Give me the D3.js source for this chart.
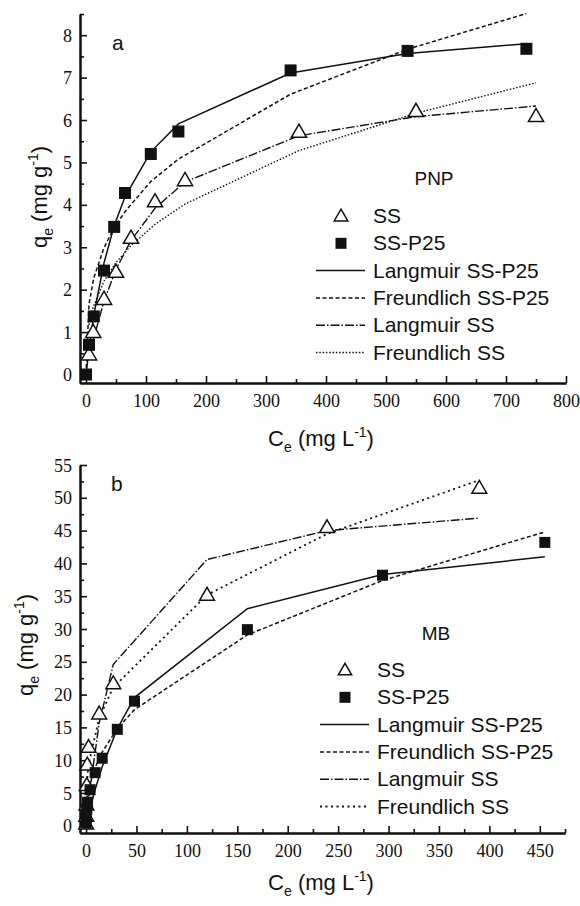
<!DOCTYPE html>
<html><head><meta charset="utf-8">
<script src="https://cdn.jsdelivr.net/npm/d3@7"></script>
<style>
html,body{margin:0;padding:0;background:#fff;}
svg{display:block;}
</style></head>
<body>
<svg id="chart" width="580" height="906"></svg>
<script>
// ---------- Panel a (PNP) ----------
const a_ssX   = [5, 12, 30, 50, 75, 115, 165, 355, 550, 750];
const a_ssY   = [0.47, 1.0, 1.78, 2.42, 3.22, 4.08, 4.58, 5.72, 6.21, 6.09];
const a_p25X  = [0, 5, 13, 30, 47, 65, 108, 154, 341, 536, 734];
const a_p25Y  = [0.0, 0.7, 1.37, 2.45, 3.48, 4.28, 5.2, 5.73, 7.17, 7.63, 7.68];
const a_langP25Y = [0, 0.59, 1.40, 2.63, 3.51, 4.19, 5.25, 5.91, 7.11, 7.57, 7.80];
const a_freuP25Y = [0, 1.66, 2.28, 2.99, 3.46, 3.84, 4.55, 5.08, 6.61, 7.67, 8.51];
const a_langSSY  = [0.36, 0.81, 1.73, 2.48, 3.16, 3.92, 4.54, 5.63, 6.08, 6.33];
const a_freuSSY  = [1.17, 1.59, 2.20, 2.64, 3.04, 3.54, 4.02, 5.28, 6.16, 6.88];
const a_xTicks = [0, 100, 200, 300, 400, 500, 600, 700, 800];
const a_yTicks = [0, 1, 2, 3, 4, 5, 6, 7, 8];

// ---------- Panel b (MB) ----------
const b_ssX   = [0.1, 0.2, 0.4, 0.7, 1.2, 2.5, 13, 27, 120, 239, 390];
const b_ssY   = [0.3, 1.5, 3.2, 6.2, 9.3, 12.0, 17.1, 21.7, 35.2, 45.5, 51.5];
const b_p25X  = [0.1, 0.3, 0.7, 1.5, 4, 9, 16, 31, 48, 160, 294, 455];
const b_p25Y  = [0.4, 1.2, 2.5, 3.6, 5.5, 8.1, 10.3, 14.7, 19.0, 29.9, 38.2, 43.2];
const b_langP25Y = [0.07, 0.21, 0.48, 1.03, 2.63, 5.53, 9.0, 14.8, 19.55, 33.1, 38.3, 41.0];
const b_freuP25Y = [1.38, 2.18, 3.09, 4.24, 6.35, 8.87, 11.25, 14.8, 17.7, 29.1, 37.4, 44.8];
const b_langSSY  = [0.17, 0.35, 0.69, 1.19, 2.01, 4.0, 15.64, 24.6, 40.6, 45.0, 46.9];
const b_freuSSY  = [3.1, 3.94, 4.99, 6.05, 7.27, 9.35, 16.4, 21.1, 35.2, 44.5, 52.7];
const b_xTicks = [0, 50, 100, 150, 200, 250, 300, 350, 400, 450];
const b_yTicks = [0, 5, 10, 15, 20, 25, 30, 35, 40, 45, 50, 55];

const legendLabels = ["SS", "SS-P25", "Langmuir SS-P25", "Freundlich SS-P25", "Langmuir SS", "Freundlich SS"];

const svg = d3.select("#chart");
const SERIF = "Liberation Serif, DejaVu Serif, serif";
const SANS = "Liberation Sans, Arial, sans-serif";
const INK = "#111";

function panel(cfg) {
  const g = svg.append("g");
  const x = d3.scaleLinear().domain(cfg.xDomain).range(cfg.xRange);
  const y = d3.scaleLinear().domain(cfg.yDomain).range(cfg.yRange);

  const xMinor = d3.axisBottom(x).tickValues(cfg.xMinor).tickSize(-4).tickSizeOuter(0).tickFormat("");
  const yMinor = d3.axisLeft(y).tickValues(cfg.yMinor).tickSize(-4).tickSizeOuter(0).tickFormat("");
  const xAx = d3.axisBottom(x).tickValues(cfg.xTicks).tickSize(-7).tickSizeOuter(0).tickPadding(10);
  const yAx = d3.axisLeft(y).tickValues(cfg.yTicks).tickSize(-7).tickSizeOuter(0).tickPadding(8);

  const gxm = g.append("g").attr("transform", `translate(0,${cfg.yRange[0]})`).call(xMinor);
  const gym = g.append("g").attr("transform", `translate(${cfg.xRange[0]},0)`).call(yMinor);
  const gx = g.append("g").attr("transform", `translate(0,${cfg.yRange[0]})`).call(xAx);
  const gy = g.append("g").attr("transform", `translate(${cfg.xRange[0]},0)`).call(yAx);
  [gxm, gym, gx, gy].forEach(a => {
    a.attr("font-family", SERIF).attr("font-size", 18);
    a.select(".domain").attr("stroke", INK).attr("stroke-width", 2);
    a.selectAll(".tick line").attr("stroke", INK).attr("stroke-width", 1.6);
    a.selectAll(".tick text").attr("fill", INK);
  });
  gy.selectAll(".tick text").attr("dy", "0.34em");
  gx.selectAll(".tick text").attr("dy", "0.75em");

  const line = d3.line().x(d => x(d[0])).y(d => y(d[1]));
  cfg.fits.forEach(f => {
    g.append("path").datum(d3.zip(f.xs, f.ys)).attr("d", line)
      .attr("fill", "none").attr("stroke", INK).attr("stroke-width", f.w)
      .attr("stroke-dasharray", f.dash);
  });

  const sq = cfg.sq, tri = cfg.tri;
  g.selectAll(".tri").data(d3.zip(cfg.ssX, cfg.ssY)).join("path")
    .attr("d", d3.symbol(d3.symbolTriangle, tri))
    .attr("transform", d => `translate(${x(d[0])},${y(d[1]) + 1})`)
    .attr("fill", "#fff").attr("stroke", INK).attr("stroke-width", 1.5);
  g.selectAll(".sq").data(d3.zip(cfg.p25X, cfg.p25Y)).join("rect")
    .attr("x", d => x(d[0]) - sq / 2).attr("y", d => y(d[1]) - sq / 2)
    .attr("width", sq).attr("height", sq).attr("fill", INK);

  g.append("text").attr("x", cfg.letterPos[0]).attr("y", cfg.letterPos[1]).text(cfg.letter)
    .attr("font-family", SANS).attr("font-size", 21).attr("fill", INK);
  g.append("text").attr("x", cfg.namePos[0]).attr("y", cfg.namePos[1]).text(cfg.name)
    .attr("text-anchor", "middle").attr("font-family", SANS).attr("font-size", 19).attr("fill", INK);

  const lx = cfg.legend[0], ly = cfg.legend[1], dyRow = 27.3;
  legendLabels.forEach((lab, i) => {
    const cy = ly + i * dyRow - 7;
    g.append("text").attr("x", lx).attr("y", ly + i * dyRow).text(lab)
      .attr("font-family", SANS).attr("font-size", 21).attr("fill", INK);
    if (i === 0) {
      g.append("path").attr("d", d3.symbol(d3.symbolTriangle, tri * 0.8))
        .attr("transform", `translate(${lx - 32},${cy + 1})`)
        .attr("fill", "#fff").attr("stroke", INK).attr("stroke-width", 1.5);
    } else if (i === 1) {
      g.append("rect").attr("x", lx - 32 - 5.5).attr("y", cy - 5.5).attr("width", 11).attr("height", 11).attr("fill", INK);
    } else {
      const f = cfg.fits[i - 2];
      g.append("line").attr("x1", lx - 57).attr("x2", lx - 8).attr("y1", cy).attr("y2", cy)
        .attr("stroke", INK).attr("stroke-width", f.w).attr("stroke-dasharray", f.dash);
    }
  });

  const xt = g.append("text").attr("x", cfg.xTitle[0]).attr("y", cfg.xTitle[1]).attr("text-anchor", "middle")
    .attr("font-family", SANS).attr("font-size", 22).attr("fill", INK);
  xt.append("tspan").text("C");
  xt.append("tspan").text("e").attr("dy", 6).attr("font-size", 14);
  xt.append("tspan").text(" (mg L").attr("dy", -6);
  xt.append("tspan").text("-1").attr("dy", -9).attr("font-size", 14);
  xt.append("tspan").text(")").attr("dy", 9);

  const yt = g.append("text").attr("transform", `translate(${cfg.yTitle[0]},${cfg.yTitle[1]}) rotate(-90)`)
    .attr("text-anchor", "middle").attr("font-family", SANS).attr("font-size", 22).attr("fill", INK);
  yt.append("tspan").text("q");
  yt.append("tspan").text("e").attr("dy", 6).attr("font-size", 14);
  yt.append("tspan").text(" (mg g").attr("dy", -6);
  yt.append("tspan").text("-1").attr("dy", -9).attr("font-size", 14);
  yt.append("tspan").text(")").attr("dy", 9);
}

panel({
  xDomain: [-10, 800], xRange: [80, 566],
  yDomain: [-0.2, 8.5], yRange: [383, 14],
  xTicks: a_xTicks, yTicks: a_yTicks,
  xMinor: d3.range(50, 800, 100), yMinor: d3.range(0.5, 8.6, 1),
  ssX: a_ssX, ssY: a_ssY, p25X: a_p25X, p25Y: a_p25Y,
  sq: 12, tri: 100,
  fits: [
    {xs: a_p25X, ys: a_langP25Y, w: 1.5, dash: null},
    {xs: a_p25X, ys: a_freuP25Y, w: 1.5, dash: "4,2.5"},
    {xs: a_ssX, ys: a_langSSY, w: 1.4, dash: "9,2,1.5,2"},
    {xs: a_ssX, ys: a_freuSSY, w: 1.4, dash: "1.5,1.8"}
  ],
  letter: "a", letterPos: [112, 50],
  name: "PNP", namePos: [434, 185],
  legend: [373, 223],
  xTitle: [321, 446], yTitle: [47, 197]
});

panel({
  xDomain: [-6, 475], xRange: [80, 565],
  yDomain: [-1.1, 55], yRange: [833, 465],
  xTicks: b_xTicks, yTicks: b_yTicks,
  xMinor: d3.range(25, 480, 50), yMinor: d3.range(2.5, 55, 5),
  ssX: b_ssX, ssY: b_ssY, p25X: b_p25X, p25Y: b_p25Y,
  sq: 11, tri: 95,
  fits: [
    {xs: b_p25X, ys: b_langP25Y, w: 1.5, dash: null},
    {xs: b_p25X, ys: b_freuP25Y, w: 1.5, dash: "4,2.5"},
    {xs: b_ssX, ys: b_langSSY, w: 1.4, dash: "9,2,1.5,2"},
    {xs: b_ssX, ys: b_freuSSY, w: 1.8, dash: "2,3.5"}
  ],
  letter: "b", letterPos: [111, 491],
  name: "MB", namePos: [436, 640],
  legend: [377, 677],
  xTitle: [321, 890], yTitle: [33, 645]
});
</script>
</body></html>
